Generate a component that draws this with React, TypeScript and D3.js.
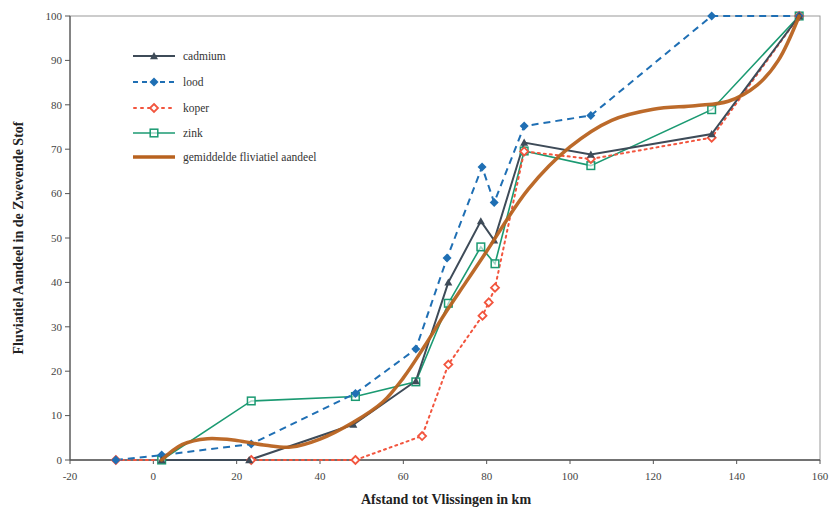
import React from "react";
import * as d3 from "d3";

// Distance to Vlissingen (km) and fluvial share (%) per metal
const cadmiumKm = [2, 23, 48, 63, 70.8, 78.6, 81.8, 89, 105, 134, 155];
const cadmiumVal = [0, 0, 8, 17.8, 40, 53.8, 49.5, 71.5, 68.8, 73.4, 100];

const loodKm = [-9, 2, 23.5, 48.5, 63, 70.5, 78.9, 81.8, 89, 105, 134, 155];
const loodVal = [0, 1.1, 3.6, 15, 25, 45.5, 66, 58, 75.2, 77.6, 100, 100];

const koperKm = [-9, 23.5, 48.5, 64.5, 70.8, 79, 80.5, 82, 89, 105, 134, 155];
const koperVal = [0, 0, 0, 5.4, 21.5, 32.5, 35.5, 38.8, 69.5, 67.8, 72.6, 100];

const zinkKm = [2, 23.5, 48.5, 63, 70.8, 78.6, 82, 89, 105, 134, 155];
const zinkVal = [0, 13.3, 14.3, 17.6, 35.3, 48, 44.2, 69.6, 66.3, 78.9, 100];

// Smoothed average fluvial share
const meanKm = [2, 7, 13, 20, 27, 33, 40, 48, 55, 60, 65, 70, 75, 80, 90, 100, 110, 120, 130, 138, 145, 150, 155];
const meanVal = [0, 3.5, 4.8, 4.4, 3.3, 2.9, 4.7, 8.5, 13, 18.5, 25.5, 33, 40, 47, 61, 70.5, 76.5, 79, 79.8, 80.8, 84.5, 90, 100];

const xTicks = [-20, 0, 20, 40, 60, 80, 100, 120, 140, 160];
const yTicks = [0, 10, 20, 30, 40, 50, 60, 70, 80, 90, 100];

const legendLabels = ["cadmium", "lood", "koper", "zink", "gemiddelde fliviatiel aandeel"];

const W = 833;
const H = 511;
const M = { left: 70, right: 13, top: 16, bottom: 51 };

const COL = {
  cadmium: "#3e4b58",
  lood: "#1f6fb4",
  koper: "#f2553e",
  zink: "#1b9a72",
  mean: "#b8621f",
};

const font = "'Liberation Serif', 'Times New Roman', serif";

type Pt = [number, number];
const zip = (a: number[], b: number[]): Pt[] => a.map((v, i) => [v, b[i]]);

export default function App() {
  const x = d3.scaleLinear().domain([-20, 160]).range([M.left, W - M.right]);
  const y = d3.scaleLinear().domain([0, 100]).range([H - M.bottom, M.top]);

  const line = d3
    .line<Pt>()
    .x((d) => x(d[0]))
    .y((d) => y(d[1]));
  const smooth = d3
    .line<Pt>()
    .x((d) => x(d[0]))
    .y((d) => y(d[1]))
    .curve(d3.curveCatmullRom.alpha(0.5));

  const cad = zip(cadmiumKm, cadmiumVal);
  const lood = zip(loodKm, loodVal);
  const kop = zip(koperKm, koperVal);
  const zink = zip(zinkKm, zinkVal);
  const mean = zip(meanKm, meanVal);

  const tri = (cx: number, cy: number, s: number) =>
    `M${cx},${cy - s}L${cx + s},${cy + s * 0.8}L${cx - s},${cy + s * 0.8}Z`;
  const dia = (cx: number, cy: number, s: number) =>
    `M${cx},${cy - s}L${cx + s},${cy}L${cx},${cy + s}L${cx - s},${cy}Z`;

  const x0 = x(-20);
  const y0 = y(0);

  // legend layout
  const lgX1 = 133;
  const lgX2 = 175;
  const lgTextX = 183;
  const lgY = [56, 82, 108, 133, 157];

  const marker = (k: string, cx: number, cy: number, key?: string | number) => {
    if (k === "cadmium")
      return <path key={key} d={tri(cx, cy, 4)} fill={COL.cadmium} />;
    if (k === "lood")
      return <path key={key} d={dia(cx, cy, 4.5)} fill={COL.lood} />;
    if (k === "koper")
      return (
        <path key={key} d={dia(cx, cy, 4)} fill="#fff" stroke={COL.koper} strokeWidth={1.8} />
      );
    if (k === "zink")
      return (
        <rect key={key} x={cx - 3.8} y={cy - 3.8} width={7.6} height={7.6} fill="#fff" fillOpacity={0.6} stroke={COL.zink} strokeWidth={1.5} />
      );
    return null;
  };

  return (
    <svg width={W} height={H} style={{ display: "block", position: "absolute", left: 0, top: 0, background: "#fff" }}>
      {/* frame */}
      <rect x={x0} y={M.top} width={x(160) - x0} height={y0 - M.top} fill="none" stroke="#9a9a9a" strokeWidth={1} />
      <line x1={x0} x2={x0} y1={M.top} y2={y0} stroke="#555" strokeWidth={1.2} />
      <line x1={x0} x2={x(160)} y1={y0} y2={y0} stroke="#555" strokeWidth={1.5} />

      {/* y axis */}
      {yTicks.map((t) => (
        <g key={"y" + t}>
          <line x1={x0 - 5} x2={x0} y1={y(t)} y2={y(t)} stroke="#555" />
          <text x={x0 - 8} y={y(t)} dy="0.35em" textAnchor="end" fontFamily={font} fontSize={11} fill="#444">
            {t}
          </text>
        </g>
      ))}
      {/* x axis */}
      {xTicks.map((t) => (
        <g key={"x" + t}>
          <line x1={x(t)} x2={x(t)} y1={y0} y2={y0 + 4} stroke="#555" />
          <text x={x(t)} y={y0 + 20} textAnchor="middle" fontFamily={font} fontSize={11} fill="#444">
            {t}
          </text>
        </g>
      ))}

      <text
        transform={`translate(23, ${(M.top + y0) / 2}) rotate(-90)`}
        textAnchor="middle"
        fontFamily={font}
        fontSize={14}
        fontWeight="bold"
        fill="#222"
      >
        Fluviatiel Aandeel in de Zwevende Stof
      </text>
      <text x={446} y={504} textAnchor="middle" fontFamily={font} fontSize={14} fontWeight="bold" fill="#222">
        Afstand tot Vlissingen in km
      </text>

      {/* series */}
      <path d={line(zink) || ""} fill="none" stroke={COL.zink} strokeWidth={1.6} />
      <path d={line(kop) || ""} fill="none" stroke={COL.koper} strokeWidth={2} strokeDasharray="2,4" strokeLinecap="round" />
      <path d={line(lood) || ""} fill="none" stroke={COL.lood} strokeWidth={2} strokeDasharray="7,5" />
      <path d={line(cad) || ""} fill="none" stroke={COL.cadmium} strokeWidth={2} />

      {zink.map((d, i) => marker("zink", x(d[0]), y(d[1]), "z" + i))}
      {kop.map((d, i) => marker("koper", x(d[0]), y(d[1]), "k" + i))}
      {lood.map((d, i) => marker("lood", x(d[0]), y(d[1]), "l" + i))}
      {cad.map((d, i) => marker("cadmium", x(d[0]), y(d[1]), "c" + i))}

      <path d={smooth(mean) || ""} fill="none" stroke={COL.mean} strokeWidth={3.5} strokeLinecap="round" opacity={0.95} />

      {/* legend */}
      {legendLabels.map((lab, i) => {
        const ly = lgY[i];
        const key = ["cadmium", "lood", "koper", "zink", "mean"][i];
        const mx = (lgX1 + lgX2) / 2;
        let stroke = null;
        if (key === "cadmium")
          stroke = <line x1={lgX1} x2={lgX2} y1={ly} y2={ly} stroke={COL.cadmium} strokeWidth={2} />;
        if (key === "lood")
          stroke = <line x1={lgX1} x2={lgX2} y1={ly} y2={ly} stroke={COL.lood} strokeWidth={2} strokeDasharray="5,4" />;
        if (key === "koper")
          stroke = <line x1={lgX1 + 1} x2={lgX2} y1={ly} y2={ly} stroke={COL.koper} strokeWidth={2} strokeDasharray="2,5" strokeLinecap="round" />;
        if (key === "zink")
          stroke = <line x1={lgX1} x2={lgX2} y1={ly} y2={ly} stroke={COL.zink} strokeWidth={1.6} />;
        if (key === "mean")
          stroke = <line x1={lgX1} x2={lgX2} y1={ly} y2={ly} stroke={COL.mean} strokeWidth={3.5} />;
        return (
          <g key={lab}>
            {stroke}
            {marker(key, mx, ly)}
            <text x={lgTextX} y={ly} dy="0.35em" fontFamily={font} fontSize={11.5} fill="#333">
              {lab}
            </text>
          </g>
        );
      })}
    </svg>
  );
}
